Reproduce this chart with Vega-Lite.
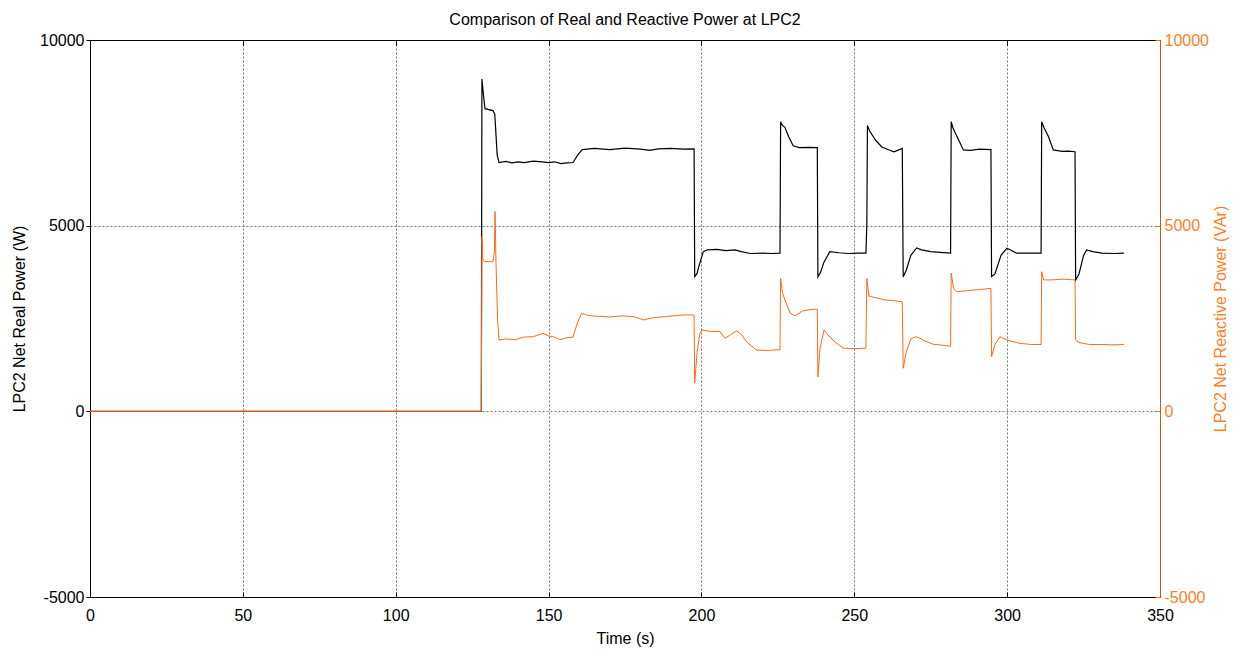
{
  "$schema": "https://vega.github.io/schema/vega-lite/v6.json",
  "width": 1070,
  "height": 557,
  "autosize": {"type": "none"},
  "padding": {"left": 90, "top": 40, "right": 79, "bottom": 54},
  "background": "white",
  "config": {
    "font": "Liberation Sans",
    "view": {"stroke": "black", "strokeWidth": 1},
    "axis": {"labelFont": "Liberation Sans", "titleFont": "Liberation Sans", "labelFontSize": 16, "titleFontSize": 16, "titleFontWeight": "normal", "labelColor": "black", "titleColor": "black", "labelExpr": "'' + datum.value", "labelFlush": false, "labelOverlap": false}
  },
  "title": {"text": "Comparison of Real and Reactive Power at LPC2", "fontSize": 16, "fontWeight": "normal", "font": "Liberation Sans", "color": "black", "offset": 4},
  "datasets": {
    "real": [
      {"t": 0, "v": 0}, {"t": 128.0, "v": 0}, {"t": 128.2, "v": 8950}, {"t": 128.6, "v": 8600}, {"t": 129.2, "v": 8150},
      {"t": 131.8, "v": 8100}, {"t": 132.4, "v": 8000}, {"t": 133.2, "v": 6900}, {"t": 133.8, "v": 6700}, {"t": 136, "v": 6730},
      {"t": 138, "v": 6690}, {"t": 140, "v": 6720}, {"t": 142, "v": 6700}, {"t": 145, "v": 6740}, {"t": 148, "v": 6720},
      {"t": 150, "v": 6700}, {"t": 152, "v": 6720}, {"t": 154, "v": 6670}, {"t": 156, "v": 6690}, {"t": 158, "v": 6700},
      {"t": 159.5, "v": 6900}, {"t": 161, "v": 7050}, {"t": 165, "v": 7080}, {"t": 170, "v": 7050}, {"t": 175, "v": 7090},
      {"t": 180, "v": 7060}, {"t": 183, "v": 7030}, {"t": 186, "v": 7070}, {"t": 190, "v": 7080}, {"t": 194, "v": 7060},
      {"t": 197.6, "v": 7070}, {"t": 197.8, "v": 3630}, {"t": 198.5, "v": 3700}, {"t": 199.5, "v": 4000}, {"t": 200.6, "v": 4300},
      {"t": 202, "v": 4350}, {"t": 205, "v": 4360}, {"t": 208, "v": 4330}, {"t": 211, "v": 4350}, {"t": 213, "v": 4300},
      {"t": 216, "v": 4250}, {"t": 220, "v": 4260}, {"t": 223, "v": 4250}, {"t": 225.7, "v": 4260}, {"t": 225.9, "v": 7800},
      {"t": 226.5, "v": 7700}, {"t": 227.3, "v": 7650}, {"t": 228.5, "v": 7400}, {"t": 230, "v": 7150}, {"t": 232, "v": 7100},
      {"t": 235, "v": 7110}, {"t": 237.9, "v": 7100}, {"t": 238.1, "v": 3620}, {"t": 239, "v": 3750}, {"t": 240, "v": 4000},
      {"t": 242, "v": 4300}, {"t": 245, "v": 4270}, {"t": 248, "v": 4250}, {"t": 251, "v": 4260}, {"t": 253.8, "v": 4260},
      {"t": 254.1, "v": 5000}, {"t": 254.3, "v": 7700}, {"t": 255, "v": 7550}, {"t": 257, "v": 7300}, {"t": 259, "v": 7120},
      {"t": 261, "v": 7050}, {"t": 263, "v": 6990}, {"t": 265.7, "v": 7080}, {"t": 266.0, "v": 3620}, {"t": 267, "v": 3800},
      {"t": 268.5, "v": 4200}, {"t": 270.4, "v": 4400}, {"t": 272, "v": 4350}, {"t": 275, "v": 4300}, {"t": 278, "v": 4280},
      {"t": 281.5, "v": 4260}, {"t": 281.7, "v": 7800}, {"t": 282.2, "v": 7650}, {"t": 283, "v": 7500}, {"t": 285.7, "v": 7040},
      {"t": 288, "v": 7030}, {"t": 291, "v": 7060}, {"t": 294.7, "v": 7050}, {"t": 294.9, "v": 3630}, {"t": 296, "v": 3700},
      {"t": 298, "v": 4200}, {"t": 299.9, "v": 4390}, {"t": 301, "v": 4350}, {"t": 303, "v": 4260}, {"t": 306, "v": 4260},
      {"t": 311.1, "v": 4260}, {"t": 311.3, "v": 7800}, {"t": 312, "v": 7650}, {"t": 313.5, "v": 7400}, {"t": 315.1, "v": 7040},
      {"t": 318, "v": 7000}, {"t": 320, "v": 7010}, {"t": 322.2, "v": 6990}, {"t": 322.4, "v": 3540}, {"t": 323.5, "v": 3700},
      {"t": 325, "v": 4200}, {"t": 326, "v": 4345}, {"t": 328, "v": 4300}, {"t": 331, "v": 4260}, {"t": 335, "v": 4250},
      {"t": 338.2, "v": 4260}
    ],
    "reactive": [
      {"t": 0, "v": 0}, {"t": 128.0, "v": 0}, {"t": 128.2, "v": 4700}, {"t": 128.5, "v": 4100}, {"t": 129, "v": 4030},
      {"t": 131.8, "v": 4030}, {"t": 132.3, "v": 4300}, {"t": 132.5, "v": 5380}, {"t": 132.8, "v": 4000}, {"t": 133.3, "v": 2500},
      {"t": 133.8, "v": 1920}, {"t": 136, "v": 1950}, {"t": 139, "v": 1930}, {"t": 142, "v": 2000}, {"t": 145, "v": 2010},
      {"t": 148.2, "v": 2100}, {"t": 150, "v": 2030}, {"t": 152, "v": 2000}, {"t": 153.7, "v": 1930}, {"t": 156, "v": 1980},
      {"t": 158, "v": 2000}, {"t": 159.5, "v": 2400}, {"t": 160.8, "v": 2640}, {"t": 163, "v": 2580}, {"t": 166, "v": 2560},
      {"t": 170, "v": 2540}, {"t": 174, "v": 2570}, {"t": 178, "v": 2550}, {"t": 181, "v": 2460}, {"t": 184, "v": 2520},
      {"t": 188, "v": 2550}, {"t": 192, "v": 2580}, {"t": 195, "v": 2600}, {"t": 197.6, "v": 2590}, {"t": 197.8, "v": 760},
      {"t": 198.6, "v": 1600}, {"t": 199.5, "v": 2100}, {"t": 200.2, "v": 2190}, {"t": 203, "v": 2150}, {"t": 206, "v": 2150},
      {"t": 207.7, "v": 1970}, {"t": 209.5, "v": 2060}, {"t": 211.5, "v": 2170}, {"t": 213, "v": 2080}, {"t": 215, "v": 1850},
      {"t": 218, "v": 1650}, {"t": 222, "v": 1640}, {"t": 225.7, "v": 1660}, {"t": 225.9, "v": 3580}, {"t": 226.5, "v": 3200},
      {"t": 227.3, "v": 3000}, {"t": 229, "v": 2650}, {"t": 230.6, "v": 2570}, {"t": 233, "v": 2700}, {"t": 235.5, "v": 2740},
      {"t": 237.9, "v": 2750}, {"t": 238.1, "v": 930}, {"t": 238.8, "v": 1700}, {"t": 240.1, "v": 2190}, {"t": 242, "v": 2000},
      {"t": 244, "v": 1850}, {"t": 246.4, "v": 1700}, {"t": 250, "v": 1690}, {"t": 253.8, "v": 1700}, {"t": 254.1, "v": 3580},
      {"t": 254.8, "v": 3100}, {"t": 257, "v": 3060}, {"t": 260, "v": 3000}, {"t": 263, "v": 2980}, {"t": 265.7, "v": 2950},
      {"t": 266.0, "v": 1160}, {"t": 267, "v": 1600}, {"t": 268.5, "v": 1950}, {"t": 270.4, "v": 2010}, {"t": 273, "v": 1900},
      {"t": 276, "v": 1800}, {"t": 278, "v": 1790}, {"t": 281.5, "v": 1750}, {"t": 281.7, "v": 3720}, {"t": 282.5, "v": 3300},
      {"t": 283.5, "v": 3220}, {"t": 287, "v": 3250}, {"t": 291, "v": 3280}, {"t": 294.7, "v": 3310}, {"t": 294.9, "v": 1470},
      {"t": 296, "v": 1800}, {"t": 297.7, "v": 2010}, {"t": 300, "v": 1920}, {"t": 304.2, "v": 1830}, {"t": 308, "v": 1800},
      {"t": 311.1, "v": 1800}, {"t": 311.3, "v": 3760}, {"t": 311.9, "v": 3540}, {"t": 315, "v": 3540}, {"t": 318, "v": 3560},
      {"t": 322.2, "v": 3540}, {"t": 322.4, "v": 1920}, {"t": 323.5, "v": 1850}, {"t": 327, "v": 1800}, {"t": 331, "v": 1800},
      {"t": 335, "v": 1790}, {"t": 338.2, "v": 1800}
    ]
  },
  "layer": [
    {
      "data": {"name": "real"},
      "mark": {"type": "line", "color": "black", "strokeWidth": 1.2, "interpolate": "linear"},
      "encoding": {
        "x": {"field": "t", "type": "quantitative", "scale": {"domain": [0, 350], "nice": false, "zero": false},
              "axis": {"title": "Time (s)", "values": [0, 50, 100, 150, 200, 250, 300, 350], "orient": "bottom", "grid": true, "gridColor": "#777", "gridDash": [2, 2], "domainColor": "black", "tickColor": "black", "tickSize": -5, "labelPadding": 15, "titlePadding": 7}},
        "y": {"field": "v", "type": "quantitative", "scale": {"domain": [-5000, 10000], "nice": false, "zero": false},
              "axis": {"title": "LPC2 Net Real Power (W)", "values": [-5000, 0, 5000, 10000], "orient": "left", "grid": true, "gridColor": "#777", "gridDash": [2, 2], "domainColor": "black", "tickColor": "black", "tickSize": 4, "labelPadding": 2, "titlePadding": 12}}
      }
    },
    {
      "data": {"name": "reactive"},
      "mark": {"type": "line", "color": "#ff6a10", "strokeWidth": 1, "interpolate": "linear"},
      "encoding": {
        "x": {"field": "t", "type": "quantitative", "scale": {"domain": [0, 350], "nice": false, "zero": false},
              "axis": {"title": null, "orient": "top", "values": [0, 50, 100, 150, 200, 250, 300, 350], "labels": false, "grid": false, "domainColor": "black", "tickColor": "black", "tickSize": -5}},
        "y": {"field": "v", "type": "quantitative", "scale": {"domain": [-5000, 10000], "nice": false, "zero": false},
              "axis": {"title": "LPC2 Net Reactive Power (VAr)", "titleAngle": 270, "values": [-5000, 0, 5000, 10000], "orient": "right", "grid": false, "domainColor": "#c05a20", "tickColor": "#ff6a10", "tickSize": -5, "labelColor": "#ff7f27", "titleColor": "#ff7f27", "labelPadding": 9, "titlePadding": 20}}
      }
    }
  ],
  "resolve": {"scale": {"y": "independent"}, "axis": {"x": "independent"}}
}
